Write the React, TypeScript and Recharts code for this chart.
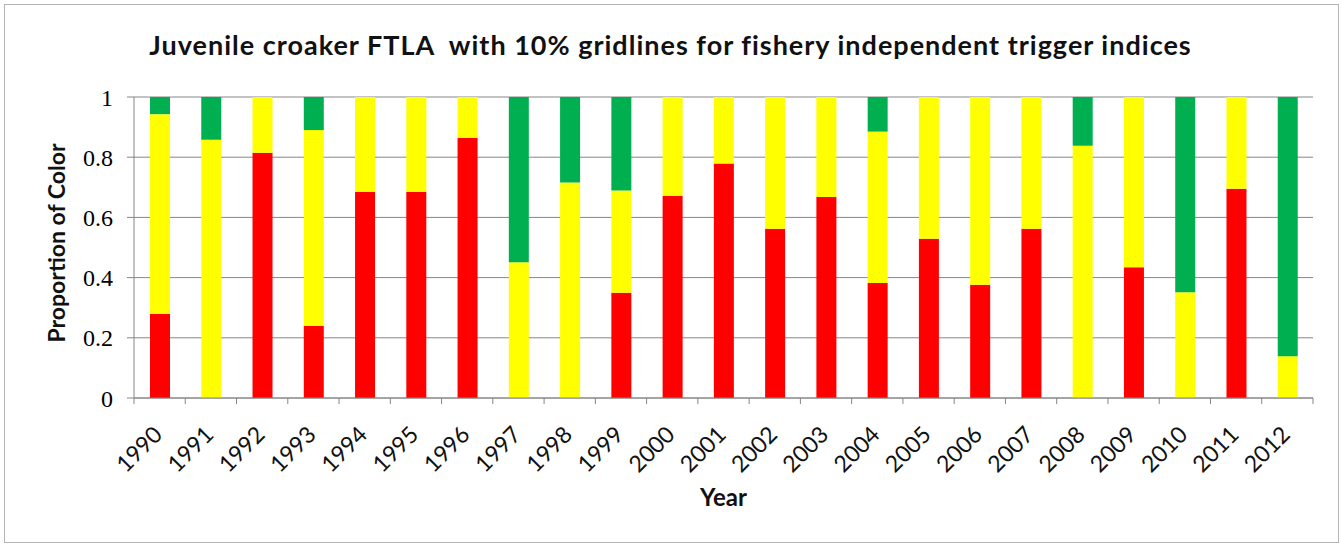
import { BarChart, Bar, XAxis, YAxis, CartesianGrid } from "recharts";

const years = [
  "1990", "1991", "1992", "1993", "1994", "1995", "1996", "1997", "1998", "1999", "2000", "2001",
  "2002", "2003", "2004", "2005", "2006", "2007", "2008", "2009", "2010", "2011", "2012",
];
const red = [
  0.28, 0, 0.815, 0.24, 0.685, 0.685, 0.865, 0, 0, 0.35, 0.672, 0.779,
  0.562, 0.668, 0.382, 0.529, 0.376, 0.562, 0, 0.434, 0, 0.695, 0,
];
const yellow = [
  0.663, 0.858, 0.185, 0.65, 0.315, 0.315, 0.135, 0.451, 0.716, 0.339, 0.328, 0.221,
  0.438, 0.332, 0.503, 0.471, 0.624, 0.438, 0.838, 0.566, 0.351, 0.305, 0.139,
];
const green = [
  0.057, 0.142, 0, 0.11, 0, 0, 0, 0.549, 0.284, 0.311, 0, 0,
  0, 0, 0.115, 0, 0, 0, 0.162, 0, 0.649, 0, 0.861,
];
const yTicks = [0, 0.2, 0.4, 0.6, 0.8, 1];

const data = years.map((y, i) => ({ year: y, red: red[i], yellow: yellow[i], green: green[i] }));

const axisGray = "#868686";
const sans = "Lato, 'Open Sans', sans-serif";

function YearTick(props: any) {
  const { x, y, payload, index } = props;
  const half = payload && payload.offset ? payload.offset : (1313 - 134) / years.length / 2;
  return (
    <g>
      <line x1={x - half} x2={x - half} y1={y} y2={y + 6} stroke={axisGray} />
      {index === years.length - 1 && (
        <line x1={x + half} x2={x + half} y1={y} y2={y + 6} stroke={axisGray} />
      )}
      <text
        x={0}
        y={0}
        transform={`translate(${x + 4},${y + 38}) rotate(-45)`}
        textAnchor="end"
        fontFamily={sans}
        fontSize={23}
        fill="#111"
      >
        {payload.value}
      </text>
    </g>
  );
}

export default function App() {
  return (
    <div style={{ position: "absolute", left: 0, top: 0, width: 1341, height: 548, background: "#fff" }}>
      <div
        style={{
          position: "absolute",
          left: 4,
          top: 4,
          width: 1333,
          height: 537,
          border: "1px solid #b4b4b4",
        }}
      />
      <div
        style={{
          position: "absolute",
          left: 0,
          top: 28,
          width: 1341,
          textAlign: "center",
          whiteSpace: "pre",
          fontFamily: sans,
          fontWeight: "bold",
          fontSize: 27,
          letterSpacing: 1,
          color: "#111",
          lineHeight: "34px",
        }}
      >
        Juvenile croaker FTLA  with 10% gridlines for fishery independent trigger indices
      </div>
      <BarChart
        width={1341}
        height={548}
        data={data}
        margin={{ top: 97, right: 28, bottom: 40, left: 64 }}
        barSize={20}
        style={{ position: "absolute", left: 0, top: 0 }}
      >
        <CartesianGrid vertical={false} stroke={axisGray} strokeWidth={1} />
        <XAxis
          dataKey="year"
          height={110}
          interval={0}
          tickLine={false}
          tickSize={0}
          tickMargin={0}
          axisLine={{ stroke: axisGray }}
          tick={<YearTick />}
          label={{
            content: (p: any) => (
              <text
                x={p.viewBox.x + p.viewBox.width / 2}
                y={506}
                textAnchor="middle"
                fontFamily={sans}
                fontWeight="bold"
                fontSize={24}
                fill="#111"
              >
                Year
              </text>
            ),
          }}
        />
        <YAxis
          width={70}
          domain={[0, 1]}
          ticks={yTicks}
          interval={0}
          tickFormatter={(v: number) => String(v)}
          tickSize={7}
          tickMargin={14}
          tickLine={{ stroke: axisGray }}
          axisLine={{ stroke: axisGray }}
          tick={{ fontFamily: "'Liberation Serif', serif", fontSize: 24, fill: "#000" }}
          label={{
            content: () => (
              <text
                x={0}
                y={0}
                transform="translate(65,243) rotate(-90)"
                textAnchor="middle"
                fontFamily={sans}
                fontWeight="bold"
                fontSize={23}
                fill="#111"
              >
                Proportion of Color
              </text>
            ),
          }}
        />
        <Bar dataKey="red" stackId="c" fill="#ff0000" isAnimationActive={false} />
        <Bar dataKey="yellow" stackId="c" fill="#ffff00" isAnimationActive={false} />
        <Bar dataKey="green" stackId="c" fill="#00b050" isAnimationActive={false} />
      </BarChart>
    </div>
  );
}
